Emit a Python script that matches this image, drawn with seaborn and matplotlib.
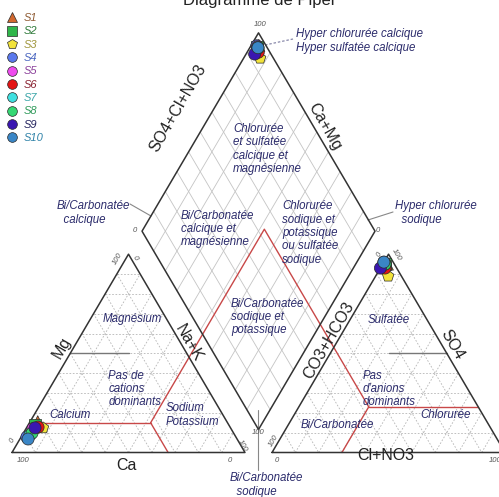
import numpy as np
import pandas as pd
import matplotlib
matplotlib.use('Agg')
import matplotlib.pyplot as plt
from matplotlib.lines import Line2D
import seaborn as sns

# --- data (percent of meq) ---
samples = ['S1', 'S2', 'S3', 'S4', 'S5', 'S6', 'S7', 'S8', 'S9', 'S10']
ca = [81.2, 83.0, 80.5, 89.7, 85.0, 82.4, 87.9, 86.5, 83.9, 89.7]
mg = [15.5, 14.0, 12.4, 7.8, 12.0, 12.8, 8.8, 9.8, 12.4, 6.8]
nak = [3.3, 3.0, 7.1, 2.5, 3.0, 4.8, 3.3, 3.7, 3.7, 3.5]
hco3 = [3.0, 4.0, 5.7, 4.0, 4.0, 5.0, 4.0, 4.0, 7.0, 4.0]
so4 = [95.0, 95.0, 88.9, 96.0, 95.0, 93.0, 95.0, 95.0, 93.0, 96.0]
cl = [2.0, 1.0, 5.4, 0.0, 1.0, 2.0, 1.0, 1.0, 0.0, 0.0]

marker_colors = ['#d2682e', '#2fb64a', '#f2e33a', '#5a78ec', '#ee4bee',
                 '#e31414', '#3fe0e0', '#35d873', '#3a16b0', '#3a86c6']
text_colors = ['#8e5a32', '#2f7a3a', '#a0963c', '#4a66c0', '#8a3f9a',
               '#8a2231', '#3aa5a8', '#2f9a5a', '#23235e', '#2f82a8']
markers = ['^', 's', 'p', 'o', 'o', 'o', 'o', 'o', 'o', 'o']

# reference split point drawn in red (Ca, Mg, Na+K) / (HCO3, SO4, Cl)
cat_split = [33.0, 15.0, 52.0]
an_split = [47.0, 23.0, 30.0]

# --- geometry ---
H = np.sqrt(3) / 2
GAP = 11.6
X0 = 100 + GAP
SX, SY, PX0, PY0 = 2.33, 2.29, 12.0, 452.5


def P(px, py):
    return (px - PX0) / SX, (PY0 - py) / SY


def cation_xy(a, m, n):
    return n + m / 2, m * H


def anion_xy(h, s, c):
    return X0 + c + s / 2, s * H


def diamond_xy(n, q):
    bx, by = 100 + GAP / 2, GAP * H
    return bx - (100 - n) / 2 + q / 2, by + (100 - n) * H + q * H


sns.set_theme(style='white')
plt.rcParams['font.family'] = ['Liberation Sans', 'DejaVu Sans']

fig = plt.figure(figsize=(4.99, 4.97), dpi=100)
ax = fig.add_axes([0, 0, 1, 1])
ax.set_xlim(-PX0 / SX, (499 - PX0) / SX)
ax.set_ylim((PY0 - 497) / SY, PY0 / SY)
ax.axis('off')

grid_kw = dict(color='#b5b5b5', lw=0.6, ls=(0, (2, 2)), zorder=1)
dgrid_kw = dict(color='#c4c4c4', lw=0.6, zorder=1)
edge_kw = dict(color='#333333', lw=1.1, zorder=3)

# triangle grids
for v in range(10, 100, 10):
    for fn in (cation_xy, anion_xy):
        for a, b in [((100 - v, v, 0), (0, v, 100 - v)),
                     ((v, 100 - v, 0), (v, 0, 100 - v)),
                     ((100 - v, 0, v), (0, 100 - v, v))]:
            x1, y1 = fn(*a)
            x2, y2 = fn(*b)
            ax.plot([x1, x2], [y1, y2], **grid_kw)
    # diamond grid
    for a, b in [((v, 0), (v, 100)), ((0, v), (100, v))]:
        x1, y1 = diamond_xy(*a)
        x2, y2 = diamond_xy(*b)
        ax.plot([x1, x2], [y1, y2], **dgrid_kw)

# outlines
for fn in (cation_xy, anion_xy):
    pts = [fn(100, 0, 0), fn(0, 0, 100), fn(0, 100, 0), fn(100, 0, 0)]
    ax.plot(*zip(*pts), **edge_kw)
pts = [diamond_xy(100, 0), diamond_xy(100, 100), diamond_xy(0, 100),
       diamond_xy(0, 0), diamond_xy(100, 0)]
ax.plot(*zip(*pts), **edge_kw)

# 50 % dominance lines
ax.plot(*zip(cation_xy(50, 50, 0), cation_xy(25, 50, 25)), color='#777777', lw=1.0, zorder=2)
ax.plot(*zip(anion_xy(25, 50, 25), anion_xy(0, 50, 50)), color='#777777', lw=1.0, zorder=2)

# red split lines
red_kw = dict(color='#c84848', lw=1.0, zorder=2)
c_pt = cation_xy(*cat_split)
a_pt = anion_xy(*an_split)
d_pt = diamond_xy(cat_split[2], an_split[1] + an_split[2])
ax.plot(*zip(cation_xy(100 - cat_split[1], cat_split[1], 0), c_pt), **red_kw)
ax.plot(*zip(c_pt, cation_xy(cat_split[0], 0, 100 - cat_split[0])), **red_kw)
ax.plot(*zip(c_pt, d_pt, a_pt), **red_kw)
ax.plot(*zip(a_pt, anion_xy(0, an_split[1], 100 - an_split[1])), **red_kw)
ax.plot(*zip(a_pt, anion_xy(100 - an_split[2], 0, an_split[2])), **red_kw)

# leader lines
lead_kw = dict(color='#888888', lw=0.8, zorder=2)
ax.plot(*zip(P(265, 45), P(293, 39)), color='#8888aa', lw=0.9, ls=(0, (2, 1.5)), zorder=2)
ax.plot(*zip(P(130, 204), P(151, 216)), **lead_kw)
ax.plot(*zip(P(368, 220), P(393, 212)), **lead_kw)
ax.plot(*zip(P(258, 410), P(258, 470)), **lead_kw)

# sample points
rows = []
for i, s in enumerate(samples):
    tot_c = ca[i] + mg[i] + nak[i]
    tot_a = hco3[i] + so4[i] + cl[i]
    c = [ca[i] * 100 / tot_c, mg[i] * 100 / tot_c, nak[i] * 100 / tot_c]
    a = [hco3[i] * 100 / tot_a, so4[i] * 100 / tot_a, cl[i] * 100 / tot_a]
    for xy in (cation_xy(*c), anion_xy(*a), diamond_xy(c[2], a[1] + a[2])):
        rows.append({'x': xy[0], 'y': xy[1], 'sample': s})
df = pd.DataFrame(rows)
sns.scatterplot(data=df, x='x', y='y', hue='sample', style='sample',
                palette=dict(zip(samples, marker_colors)),
                markers=dict(zip(samples, markers)), s=75,
                edgecolor='#2a2a2a', linewidth=0.5, legend=False, ax=ax, zorder=5)

# legend
handles = [Line2D([], [], ls='none', marker=m, markersize=7, markerfacecolor=c,
                  markeredgecolor='#2a2a2a', markeredgewidth=0.5)
           for m, c in zip(markers, marker_colors)]
leg = fig.legend(handles, samples, loc='upper left', bbox_to_anchor=(0.0, 0.987),
                 frameon=False, handlelength=1.0, handletextpad=0.5,
                 labelspacing=0.3, borderaxespad=0.2,
                 prop={'style': 'italic', 'size': 8})
for t, c in zip(leg.get_texts(), text_colors):
    t.set_color(c)

# region labels
navy = '#2c2c6c'
reg_kw = dict(color=navy, style='italic', fontsize=8.3, zorder=6, linespacing=1.15)
regions = [
    (296, 41, 'Hyper chlorurée calcique\nHyper sulfatée calcique', 'left'),
    (233, 149, 'Chlorurée\net sulfatée\ncalcique et\nmagnésienne', 'left'),
    (181, 229, 'Bi/Carbonatée\ncalcique et\nmagnésienne', 'left'),
    (282, 233, 'Chlorurée\nsodique et\npotassique\nou sulfatée\nsodique', 'left'),
    (231, 317, 'Bi/Carbonatée\nsodique et\npotassique', 'left'),
    (57, 213, 'Bi/Carbonatée\n  calcique', 'left'),
    (395, 213, 'Hyper chlorurée\n  sodique', 'left'),
    (230, 485, 'Bi/Carbonatée\n  sodique', 'left'),
    (132, 319, 'Magnésium', 'center'),
    (135, 389, 'Pas de\ncations\ndominants', 'center'),
    (70, 415, 'Calcium', 'center'),
    (192, 415, 'Sodium\nPotassium', 'center'),
    (389, 320, 'Sulfatée', 'center'),
    (389, 389, 'Pas\nd\'anions\ndominants', 'center'),
    (446, 415, 'Chlorurée', 'center'),
    (337, 425, 'Bi/Carbonatée', 'center'),
]
for px, py, txt, ha in regions:
    x, y = P(px, py)
    ax.text(x, y, txt, ha=ha, va='center', multialignment='left', **reg_kw)

# axis titles
ttl_kw = dict(color='#222222', fontsize=11.5, ha='center', va='center', zorder=6)
for px, py, txt, rot in [(178, 108, 'SO4+Cl+NO3', 60), (325, 127, 'Ca+Mg', -60),
                         (189, 343, 'Na+K', -60), (329, 340, 'CO3+HCO3', 60),
                         (62, 348, 'Mg', 60), (126, 466, 'Ca', 0),
                         (386, 455, 'Cl+NO3', 0), (452, 345, 'SO4', -60)]:
    x, y = P(px, py)
    ax.text(x, y, txt, rotation=rot, rotation_mode='anchor', **ttl_kw)

# tick labels
tk_kw = dict(color='#555555', fontsize=5.5, style='italic', ha='center', va='center', zorder=6)
for px, py, txt, rot in [(23, 461, '100', 0), (230, 461, '0', 0), (12, 440, '0', 60),
                         (118, 259, '100', 60), (135, 258, '0', -60), (242, 446, '100', -60),
                         (277, 461, '0', 0), (495, 461, '100', 0), (274, 441, '100', 60),
                         (379, 254, '0', 60), (396, 255, '100', -60),
                         (260, 24, '100', 0), (135, 231, '0', 0), (378, 231, '0', 0),
                         (258, 432, '100', 0)]:
    x, y = P(px, py)
    ax.text(x, y, txt, rotation=rot, **tk_kw)

fig.text(0.52, 1 - 5 / 497, 'Diagramme de Piper', ha='center', va='baseline',
         fontsize=12, color='#222222')

fig.savefig('out.png', dpi=100)
